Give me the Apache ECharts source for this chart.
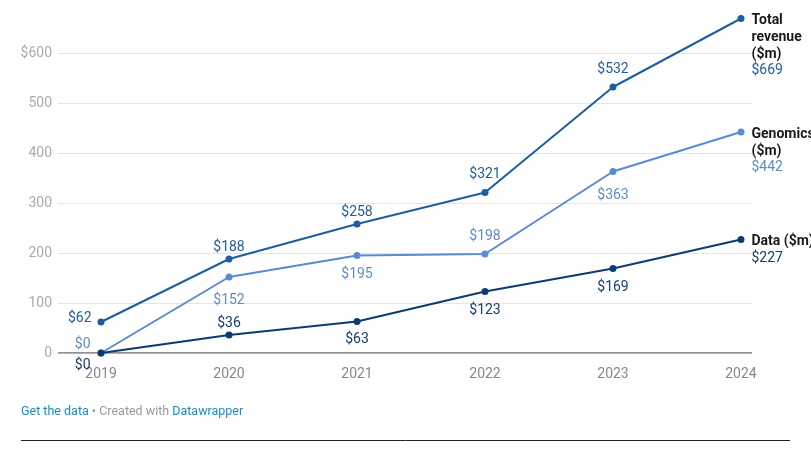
<!DOCTYPE html>
<html><head><meta charset="utf-8">
<script src="https://cdn.jsdelivr.net/npm/echarts@6/dist/echarts.min.js"></script>
<style>html,body{margin:0;padding:0;background:#fff}#c{width:811px;height:456px}</style>
</head><body><div id="c"></div>
<script>
const years = [2019, 2020, 2021, 2022, 2023, 2024];
const totalRevenue = [62, 188, 258, 321, 532, 669];
const genomics = [0, 152, 195, 198, 363, 442];
const dataRev = [0, 36, 63, 123, 169, 227];
const yTicks = [0, 100, 200, 300, 400, 500, 600];
const seriesNames = ['Total\nrevenue\n($m)', 'Genomics\n($m)', 'Data ($m)'];

// label placement per point: [position, distance, offset]
const placeTotal = [['left', 6, [0, -4]], ['top', 1], ['top', 1], ['top', 8], ['top', 7], null];
const placeGen = [['left', 7, [0, -9]], ['bottom', 13], ['bottom', 8], ['top', 7], ['bottom', 13], null];
const placeData = [['left', 7, [0, 12]], ['top', 1], ['bottom', 7], ['bottom', 8], ['bottom', 8], null];

const font = 'Roboto, "Noto Sans", sans-serif';

function build(values, place, color, labelColor, name) {
  return values.map((v, i) => {
    const item = { value: [years[i], v] };
    if (place[i]) {
      item.label = {
        show: true, position: place[i][0], distance: place[i][1],
        offset: place[i][2] || [0, 0], color: labelColor,
        fontSize: 14, fontFamily: font, formatter: '$' + v
      };
    } else {
      item.label = {
        show: true, position: 'right', distance: 7, offset: [0, -6],
        align: 'left', verticalAlign: 'top',
        formatter: '{n|' + name.split('\n').join('}\n{n|') + '}\n{v|$' + v + '}',
        rich: {
          n: { fontWeight: 'bold', color: '#1a1a1a', fontSize: 14, fontFamily: font, lineHeight: 16.7 },
          v: { color: labelColor, fontSize: 14, fontFamily: font, lineHeight: 16.7 }
        }
      };
    }
    return item;
  });
}

const chart = echarts.init(document.getElementById('c'));
function mkSeries(values, place, color, labelColor, name) {
  return {
    type: 'line', name: name, data: build(values, place, color, labelColor, name),
    symbol: 'circle', symbolSize: 7, clip: false,
    lineStyle: { color: color, width: 2 }, itemStyle: { color: color },
    label: { show: true }, emphasis: { disabled: true }, animation: false, z: 3
  };
}
chart.setOption({
  animation: false,
  grid: { left: 58, right: 59, top: 53, bottom: 103 },
  xAxis: {
    type: 'value', min: 2018.664, max: 2024.086,
    axisLine: { show: false }, axisTick: { show: false }, splitLine: { show: false },
    axisLabel: { customValues: years, color: '#888', fontSize: 14, fontFamily: font, margin: 14, formatter: v => String(v) }
  },
  yAxis: {
    type: 'value', min: 0, max: 600, interval: 100,
    axisLine: { show: false }, axisTick: { show: false },
    splitLine: { lineStyle: { color: '#e5e5e5', width: 1 } },
    axisLabel: {
      color: '#aaa', fontSize: 14, fontFamily: font, margin: 6,
      formatter: v => (v === yTicks[yTicks.length - 1] ? '$' + v : String(v))
    }
  },
  series: [
    mkSeries(totalRevenue, placeTotal, '#1c5e9f', '#245d98', seriesNames[0]),
    mkSeries(genomics, placeGen, '#5a8ad0', '#5f8bc6', seriesNames[1]),
    mkSeries(dataRev, placeData, '#0e3a72', '#173d6c', seriesNames[2]),
    {
      type: 'line', data: [[2018.664, 0], [2024.086, 0]], symbol: 'none', silent: true,
      lineStyle: { color: '#222', width: 1 }, z: 2, animation: false
    }
  ],
  graphic: [
    { type: 'text', left: 21, top: 405, style: {
      rich: { a: { fill: '#1d8bc0', fontSize: 12.5, fontFamily: font }, b: { fill: '#999', fontSize: 12.5, fontFamily: font } },
      text: '{a|Get the data}{b| • Created with }{a|Datawrapper}' } },
    { type: 'line', shape: { x1: 21, y1: 440.5, x2: 790, y2: 440.5 }, style: { stroke: '#222', lineWidth: 1 } }
  ]
});
</script></body></html>
